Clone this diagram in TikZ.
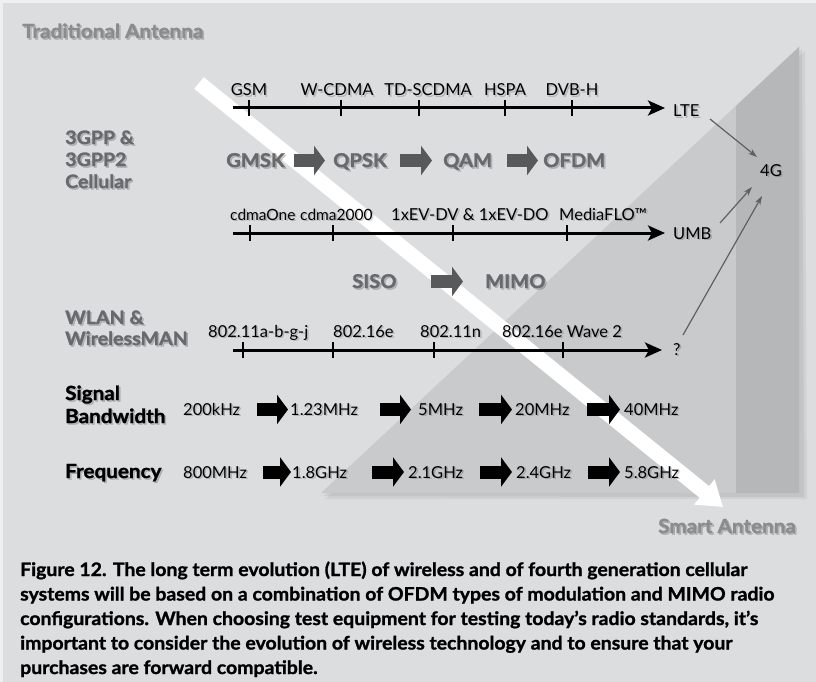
\documentclass[tikz,border=0pt]{standalone}
\usepackage{graphicx}
\usepackage{fontspec}
\setmainfont{Lato}[BoldFeatures={FakeBold=1.3, FakeStretch=1.06}]
\newfontfamily\capfont[BoldFeatures={FakeBold=1.3}]{Lato}
\usetikzlibrary{arrows.meta}

\definecolor{paper}{HTML}{DCDDDF}
\definecolor{rim}{HTML}{EFEFF0}
\definecolor{wedge}{HTML}{C9CACC}
\definecolor{strip}{HTML}{B6B7B9}
\definecolor{headgray}{HTML}{8B8C8E}
\definecolor{labgray}{HTML}{68696C}
\definecolor{blockgray}{HTML}{58595B}
\definecolor{thingray}{HTML}{5F6062}

\newcommand\capstyle{\capfont\bfseries\fontsize{18.5}{24}\selectfont}
\newlength\capnatural

\tikzset{
  x=1pt, y=-1pt,
  lab/.style={inner sep=0pt, anchor=base west, text=black, font=\fontsize{16.5}{20}\selectfont},
  labc/.style={lab, anchor=base},
  labtight/.style={lab, font=\fontsize{15.5}{20}\selectfont},
  modlab/.style={inner sep=0pt, anchor=base west, text=labgray, font=\bfseries\fontsize{19}{24}\selectfont},
  grouplab/.style={inner sep=0pt, anchor=base west, text=labgray, font=\bfseries\fontsize{18.5}{22}\selectfont},
  keylab/.style={inner sep=0pt, anchor=base west, text=black, font=\bfseries\fontsize{19.5}{24}\selectfont},
  cornerlab/.style={inner sep=0pt, anchor=base west, text=headgray, font=\bfseries\fontsize{19.5}{22}\selectfont},
  captionline/.style={inner sep=0pt, anchor=base west, text=black, font=\capstyle},
  timeline/.style={line width=3pt, -{Stealth[length=17pt,width=15pt,inset=4pt]}},
  tick/.style={line width=1.3pt},
  blockarrow/.style={line width=13pt, -{Triangle[length=11pt,width=29pt]}},
  graybarrow/.style={blockarrow, blockgray},
  thinarrow/.style={thingray, line width=1.2pt, -{Stealth[length=9pt,width=6pt]}},
}

% text with a soft drop shadow
\newcommand\shtext[4]{%
  \node[#2, text=black, opacity=0.18, xshift=1.6pt, yshift=-1.6pt] (#1-sh) at (#3) {#4};
  \node[#2] (#1) at (#3) {#4};}

% caption lines share one condensing factor, set so the longest line fills the column
\newcommand\capline[1]{\scalebox{\capsqueeze}[1]{#1}}

\begin{document}
\settowidth\capnatural{\capstyle systems will be based on a combination of OFDM types of modulation and MIMO radio}
\pgfmathsetmacro\capsqueeze{754/\capnatural}
\begin{tikzpicture}
\useasboundingbox (0,0) rectangle (816,682);

% paper
\fill[rim] (0,0) rectangle (816,682);
\fill[paper] (3,3) rectangle (816,682);

% smart-antenna wedge with its shadow
\fill[black, opacity=0.05] (325,499) -- (805,51) -- (807,499) -- cycle;
\fill[black, opacity=0.06] (323,496) -- (802,49) -- (804,497) -- cycle;
\fill[wedge] (321,493) -- (799,47) -- (799,493) -- cycle;
\fill[strip] (736,106) -- (799,47) -- (799,493) -- (736,493) -- cycle;

% white transition arrow
\coordinate (sweep-start) at (199,83);
\coordinate (sweep-end) at (723,507);
\draw[white, line width=15pt, -{Triangle[length=24pt,width=31pt]}] (sweep-start) -- (sweep-end);

% corner titles
\shtext{trad}{cornerlab}{22,38}{Traditional Antenna}
\shtext{smart}{cornerlab}{658,533}{Smart Antenna}

% group titles
\shtext{g1a}{grouplab}{65,144}{3GPP \&}
\shtext{g1b}{grouplab}{65,166}{3GPP2}
\shtext{g1c}{grouplab}{65,188}{Cellular}
\shtext{g2a}{grouplab}{65,324}{WLAN \&}
\shtext{g2b}{grouplab}{65,345}{WirelessMAN}
\shtext{sba}{keylab}{65,400}{Signal}
\shtext{sbb}{keylab}{65,423}{Bandwidth}
\shtext{freq}{keylab}{65,478}{Frequency}

% 3GPP timeline
\draw[timeline] (233,108) -- (665,108);
\foreach \t in {249,341,419,505,572} \draw[tick] (\t,100) -- (\t,116);
\shtext{gsm}{labc}{249,96}{GSM}
\shtext{wcdma}{labc}{337,96}{W-CDMA}
\shtext{tdscdma}{labc}{428,96}{TD-SCDMA}
\shtext{hspa}{labc}{505,96}{HSPA}
\shtext{dvbh}{labc}{572,96}{DVB-H}
\shtext{lte}{lab}{673,117}{LTE}

% modulation
\shtext{gmsk}{modlab}{226,167}{GMSK}
\shtext{qpsk}{modlab}{333,167}{QPSK}
\shtext{qam}{modlab}{443,167}{QAM}
\shtext{ofdm}{modlab}{543,167}{OFDM}
\draw[graybarrow] (294,160.5) -- (325,160.5);
\draw[graybarrow] (400,160.5) -- (432,160.5);
\draw[graybarrow] (507,160.5) -- (538,160.5);

% 3GPP2 timeline
\draw[timeline] (233,233) -- (665,233);
\foreach \t in {250,333,453,567} \draw[tick] (\t,225) -- (\t,241);
\shtext{cdmaone}{labtight}{230,220}{cdmaOne}
\shtext{cdmatwo}{labtight}{300,220}{cdma2000}
\shtext{evdo}{lab}{391,220}{1xEV-DV \& 1xEV-DO}
\shtext{mflo}{lab}{559,220}{MediaFLO\texttrademark}
\shtext{umb}{lab}{673,239}{UMB}

% antenna configuration
\shtext{siso}{modlab}{352,288}{SISO}
\shtext{mimo}{modlab}{485,288}{MIMO}
\draw[graybarrow] (431,281.5) -- (463,281.5);

% WLAN timeline
\draw[timeline] (233,350) -- (662,350);
\foreach \t in {243,333,434,563} \draw[tick] (\t,342) -- (\t,358);
\shtext{wa}{lab}{208,337}{802.11a-b-g-j}
\shtext{wb}{lab}{333,337}{802.16e}
\shtext{wc}{lab}{420,337}{802.11n}
\shtext{wd}{lab}{502,337}{802.16e Wave 2}
\shtext{wq}{lab}{673,355}{?}

% 4G convergence
\shtext{fourg}{lab}{760,176}{4G}
\coordinate (lte-out) at (710,119);
\coordinate (fourg-a) at (757,157);
\coordinate (umb-out) at (720,223);
\coordinate (fourg-b) at (752,187);
\coordinate (wq-out) at (683,335);
\coordinate (fourg-c) at (762,196);
\draw[thinarrow] (lte-out) -- (fourg-a);
\draw[thinarrow] (umb-out) -- (fourg-b);
\draw[thinarrow] (wq-out) -- (fourg-c);

% signal bandwidth
\shtext{bw1}{lab}{183,415}{200kHz}
\shtext{bw2}{lab}{290,415}{1.23MHz}
\shtext{bw3}{lab}{418,415}{5MHz}
\shtext{bw4}{lab}{515,415}{20MHz}
\shtext{bw5}{lab}{624,415}{40MHz}
\draw[blockarrow] (257,409.5) -- (288,409.5);
\draw[blockarrow] (380,409.5) -- (411,409.5);
\draw[blockarrow] (479,409.5) -- (512,409.5);
\draw[blockarrow] (587,409.5) -- (620,409.5);

% frequency
\shtext{f1}{lab}{183,478}{800MHz}
\shtext{f2}{lab}{292,478}{1.8GHz}
\shtext{f3}{lab}{408,478}{2.1GHz}
\shtext{f4}{lab}{516,478}{2.4GHz}
\shtext{f5}{lab}{624,478}{5.8GHz}
\draw[blockarrow] (263,472) -- (291,472);
\draw[blockarrow] (372,472) -- (404,472);
\draw[blockarrow] (480,472) -- (512,472);
\draw[blockarrow] (588,472) -- (620,472);

% caption
\node[captionline] (cap1) at (20,576) {\capline{Figure 12. The long term evolution (LTE) of wireless and of fourth generation cellular}};
\node[captionline] (cap2) at (20,600.5) {\capline{systems will be based on a combination of OFDM types of modulation and MIMO radio}};
\node[captionline] (cap3) at (20,625) {\capline{configurations. When choosing test equipment for testing today’s radio standards, it’s}};
\node[captionline] (cap4) at (20,649.5) {\capline{important to consider the evolution of wireless technology and to ensure that your}};
\node[captionline] (cap5) at (20,674) {\capline{purchases are forward compatible.}};
\end{tikzpicture}
\end{document}
